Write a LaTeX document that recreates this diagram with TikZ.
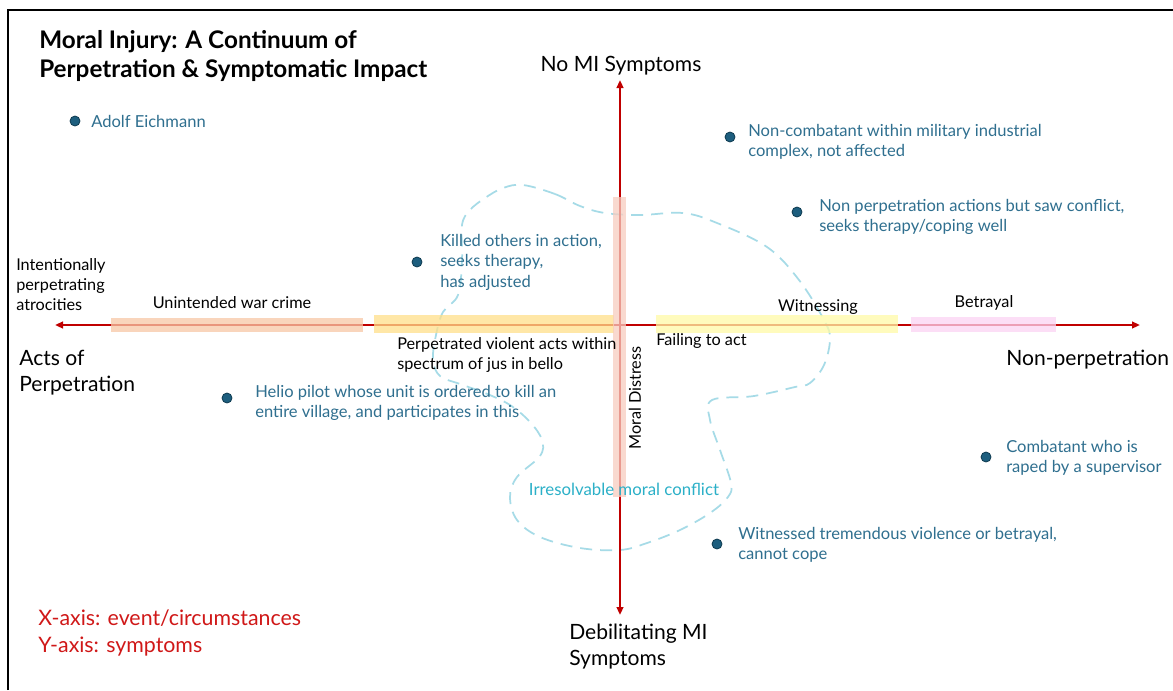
\documentclass[tikz,border=0pt]{standalone}
\usepackage{fontspec}
\setmainfont{Lato}
\usetikzlibrary{arrows.meta}
\definecolor{axisred}{HTML}{C00000}
\definecolor{notered}{HTML}{D01818}
\definecolor{caseblue}{HTML}{2F6F8F}
\definecolor{dotfill}{HTML}{1D5E7E}
\definecolor{dotline}{HTML}{0E3A50}
\definecolor{blobline}{HTML}{A6DBE7}
\definecolor{conflict}{HTML}{2BB0C8}
\definecolor{barpeach}{HTML}{F8C8A6}
\definecolor{bargold}{HTML}{FFE08A}
\definecolor{baryellow}{HTML}{FFFAA8}
\definecolor{barpink}{HTML}{FBD3F3}
\definecolor{barrose}{HTML}{F8CDBF}
\tikzset{
  x=0.75pt, y=-0.75pt,
  axis/.style={draw=axisred, line width=1.6pt, -{Triangle[length=6pt,width=5pt]}},
  band/.style={opacity=0.75},
  dot/.style={circle, fill=dotfill, draw=dotline, line width=0.6pt, minimum size=7.5pt, inner sep=0pt},
  casetext/.style={text=caseblue, font=\fontsize{12.4}{15.4}\selectfont, align=left, anchor=west, inner sep=0pt},
  smalltext/.style={text=black, font=\fontsize{12.2}{15}\selectfont, align=left, inner sep=0pt},
  bigtext/.style={text=black, font=\fontsize{15.8}{19.5}\selectfont, align=left, inner sep=0pt},
  titletext/.style={font=\bfseries\fontsize{18.2}{21.75}\selectfont, align=left, anchor=west, inner sep=0pt},
  notetext/.style={text=notered, font=\fontsize{16}{20.25}\selectfont, align=left, anchor=west, inner sep=0pt},
  blob/.style={draw=blobline, line width=1.3pt, dash pattern=on 9pt off 6pt}
}
\begin{document}
\begin{tikzpicture}
\useasboundingbox (0,0) rectangle (1173,690);
\fill[white] (0,0) rectangle (1173,690);

% frame
\draw[line width=2pt] (8,690) -- (8,10) -- (1173,10);

% region of irresolvable moral conflict
\draw[blob] plot[smooth cycle, tension=0.6] coordinates {
  (523,185) (555,194) (580,206) (605,213) (640,215) (683,213) (717,223)
  (767,247) (799,280) (824,320) (830,339) (824,365) (810,383) (795,387)
  (754,396) (712,400) (710,420) (720,450) (731,483) (728,497) (710,513)
  (680,530) (647,543) (620,550) (580,548) (540,537) (517,520) (510,497)
  (517,477) (540,456) (542,440) (530,422) (510,405) (485,393) (460,384)
  (440,376) (433,360) (436,335) (443,312) (458,295) (462,260) (462,225)
  (470,210) (485,198) (503,188)};

% axes
\coordinate (xl) at (55,325);
\coordinate (xr) at (1140,325);
\coordinate (yt) at (620,80);
\coordinate (yb) at (620,615);
\coordinate (xm) at (620,325);
\draw[axis] (xm) -- (xl);
\draw[axis] (xm) -- (xr);
\draw[axis] (xm) -- (yt);
\draw[axis] (xm) -- (yb);

% bands along the axes
\fill[barpeach, band] (111,318) rectangle (363,332);
\fill[bargold, band] (374,315) rectangle (614,333);
\fill[baryellow, band] (656,315) rectangle (898,333);
\fill[barpink, band] (911,317) rectangle (1056,332);
\fill[barrose, band] (613,197) rectangle (626,497);

% title and axis notes
\node[titletext] (title) at (39,56.5) {Moral Injury: A Continuum of\\Perpetration \& Symptomatic Impact};
\node[notetext] (notes) at (38,632.5) {X-axis: event/circumstances\\Y-axis: symptoms};

% axis end labels
\node[bigtext, anchor=center] (top) at (621,66) {No MI Symptoms};
\node[bigtext, anchor=west] (bottom) at (569,646.5) {Debilitating MI\\Symptoms};
\node[bigtext, anchor=west] (left) at (19,373) {Acts of\\Perpetration};
\node[bigtext, anchor=west] (right) at (1006,360) {Non-perpetration};

% band labels
\node[smalltext, anchor=west] (intent) at (16,284.5) {Intentionally\\perpetrating\\atrocities};
\node[smalltext, anchor=center] (unint) at (232,303) {Unintended war crime};
\node[smalltext, anchor=west] (perp) at (397,355) {Perpetrated violent acts within\\spectrum of jus in bello};
\node[smalltext, anchor=west] (fail) at (656,341) {Failing to act};
\node[smalltext, anchor=center] (witn) at (818,307) {Witnessing};
\node[smalltext, anchor=center] (betr) at (984,303) {Betrayal};
\node[smalltext, anchor=center, rotate=90] (distress) at (635,398) {Moral Distress};
\node[text=conflict, font=\fontsize{12.6}{15}\selectfont, inner sep=0pt] (irres) at (624,489) {Irresolvable moral conflict};

% cases
\node[dot] (d1) at (75,121) {};
\node[casetext] (c1) at (91,121) {Adolf Eichmann};
\node[dot] (d2) at (730,137) {};
\node[casetext] (c2) at (748,142) {Non-combatant within military industrial\\complex, not affected};
\node[dot] (d3) at (797,212) {};
\node[casetext] (c3) at (819,217) {Non perpetration actions but saw conflict,\\seeks therapy/coping well};
\node[dot] (d4) at (417,262) {};
\node[casetext] (c4) at (440,262) {Killed others in action,\\seeks therapy,\\has adjusted};
\node[dot] (d5) at (227,398) {};
\node[casetext] (c5) at (255,403) {Helio pilot whose unit is ordered to kill an\\entire village, and participates in this};
\node[dot] (d6) at (986,457) {};
\node[casetext] (c6) at (1006,458) {Combatant who is\\raped by a supervisor};
\node[dot] (d7) at (717,544) {};
\node[casetext] (c7) at (738,545) {Witnessed tremendous violence or betrayal,\\cannot cope};
\end{tikzpicture}
\end{document}
